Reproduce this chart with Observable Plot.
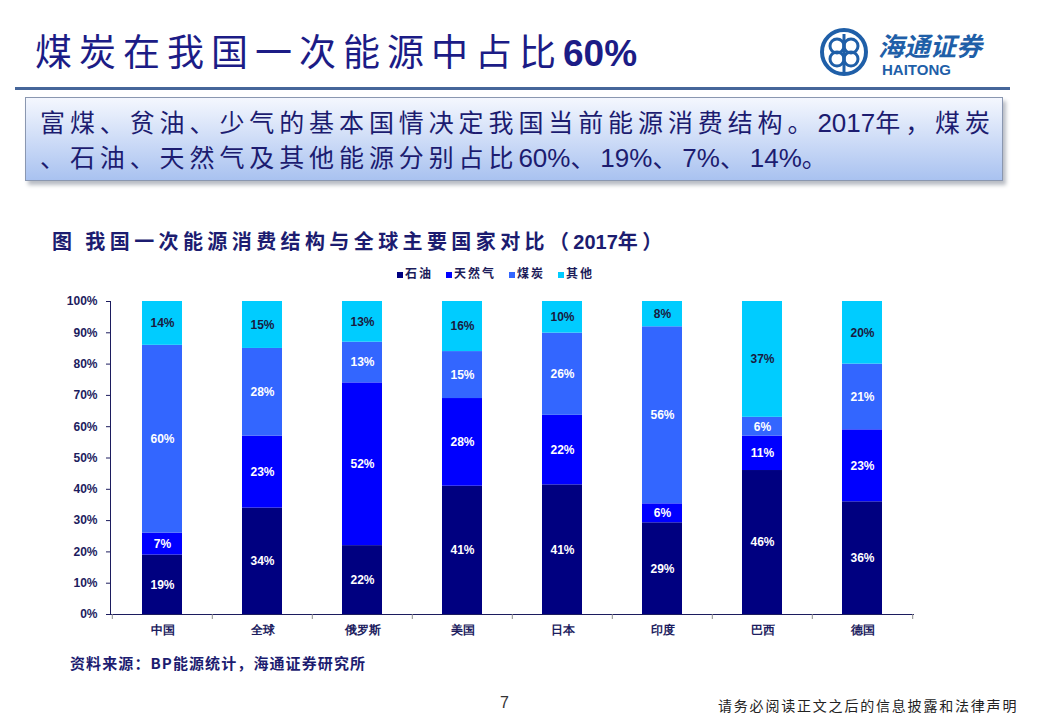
<!DOCTYPE html>
<html><head><meta charset="utf-8">
<script src="https://cdn.jsdelivr.net/npm/d3@7"></script>
<script src="https://cdn.jsdelivr.net/npm/@observablehq/plot@0.6"></script>
<style>
body{margin:0;width:1040px;height:720px;position:relative;background:#fff;overflow:hidden;font-family:"Noto Sans CJK SC",sans-serif;}
.abs{position:absolute;white-space:nowrap;}
#title{left:35px;top:26px;font-size:37px;letter-spacing:7px;color:#1c1c86;line-height:48px;}
#title b{font-family:"Liberation Sans",Arial,sans-serif;font-weight:bold;letter-spacing:0;}
#hline{left:15px;top:87px;width:995px;height:3px;background:#46669a;}
#box{left:25px;top:97px;width:976px;height:82px;border:1px solid #8a97b0;background:linear-gradient(#f4f7fe,#a9c2f0);box-shadow:3px 4px 4px #b8bcc4;}
.bt{font-size:25px;color:#1c1c70;letter-spacing:4.9px;line-height:30px;}
.bt b{font-family:"Liberation Sans",Arial,sans-serif;font-weight:normal;letter-spacing:0;font-size:26px;}
#ctitle{left:52px;top:226px;font-size:20px;font-weight:bold;color:#1c1c70;letter-spacing:4.4px;}
#ctitle b{font-family:"Liberation Sans",Arial,sans-serif;letter-spacing:0;}
#legend{left:397px;top:264px;font-size:12px;font-weight:bold;color:#1c1c5a;display:flex;gap:13px;letter-spacing:2px;}
#legend span.sw{display:inline-block;width:6px;height:6px;margin-right:2px;}
#chart{left:0;top:285px;}
#chart svg g[aria-label="y-axis"] line, #chart svg g[aria-label="y-axis"] path,
#chart svg g[aria-label="x-axis"] line, #chart svg g[aria-label="x-axis"] path{stroke:#8c8c8c;}
#chart svg g[aria-label="y-axis"] text{fill:#1c1c5e;}
#chart svg g[aria-label="x-axis"] text{fill:#1c1c70;font-family:"Noto Sans CJK SC",sans-serif;}
#src{left:70px;top:652px;font-size:15px;font-weight:bold;color:#1c1c70;letter-spacing:1.1px;}
#page{left:500px;top:694px;font-size:16px;color:#333;font-family:"Liberation Sans",Arial,sans-serif;}
#disc{left:718px;top:695px;font-size:14px;color:#222;letter-spacing:1.8px;}
#logo{left:820px;top:24px;}
</style></head><body>
<div class="abs" id="title">煤炭在我国一次能源中占比<b>60%</b></div>
<div class="abs" id="logo">
  <svg width="210" height="62">
    <g transform="translate(0,4)">
    <circle cx="24" cy="24" r="22" fill="none" stroke="#1f5fa8" stroke-width="4"/>
    <circle cx="17" cy="18" r="7" fill="none" stroke="#1f5fa8" stroke-width="3"/>
    <circle cx="31" cy="18" r="7" fill="none" stroke="#1f5fa8" stroke-width="3"/>
    <circle cx="17" cy="31" r="7" fill="none" stroke="#1f5fa8" stroke-width="3"/>
    <circle cx="31" cy="31" r="7" fill="none" stroke="#1f5fa8" stroke-width="3"/>
    <line x1="24" y1="6" x2="24" y2="44" stroke="#1f5fa8" stroke-width="3"/>
    <text x="58" y="28" font-size="26" font-style="italic" font-weight="bold" fill="#1f5fa8" font-family="Noto Sans CJK SC">海通证券</text>
    <text x="62" y="47" font-size="15" font-weight="bold" fill="#1f5fa8" font-family="Liberation Sans, Arial">HAITONG</text>
    </g>
  </svg>
</div>
<div class="abs" id="hline"></div>
<div class="abs" id="box"></div>
<div class="abs bt" style="left:40px;top:106px;">富煤、贫油、少气的基本国情决定我国当前能源消费结构。<b>2017</b>年，煤炭</div>
<div class="abs bt" style="left:40px;top:141px;">、石油、天然气及其他能源分别占比<b>60%</b>、<b>19%</b>、<b>7%</b>、<b>14%</b>。</div>
<div class="abs" id="ctitle">图 我国一次能源消费结构与全球主要国家对比（<b>2017</b>年）</div>
<div class="abs" id="legend"></div>
<div class="abs" id="chart"></div>
<div class="abs" id="src">资料来源：BP能源统计，海通证券研究所</div>
<div class="abs" id="page">7</div>
<div class="abs" id="disc">请务必阅读正文之后的信息披露和法律声明</div>
<script>
const countries = ["中国","全球","俄罗斯","美国","日本","印度","巴西","德国"];
const series = ["石油","天然气","煤炭","其他"];
const colors = ["#000080","#0000ff","#3366ff","#00ccff"];
const oil   = [19,34,22,41,41,29,46,36];
const gas   = [7,23,52,28,22,6,11,23];
const coal  = [60,28,13,15,26,56,6,21];
const other = [14,15,13,16,10,8,37,20];
const yTicks = [0,0.1,0.2,0.3,0.4,0.5,0.6,0.7,0.8,0.9,1];

const table = [];
countries.forEach((c,i)=>{
  [oil,gas,coal,other].forEach((arr,j)=>table.push({country:c,type:series[j],v:arr[i]}));
});

const legend = document.getElementById("legend");
series.forEach((s,i)=>{
  const it = document.createElement("div");
  it.innerHTML = `<span class="sw" style="background:${colors[i]}"></span>${s}`;
  legend.appendChild(it);
});

const stackOpts = {x:"country", y:"v", z:"type", offset:"normalize", order:null};
const chart = Plot.plot({
  width:1040, height:358,
  marginLeft:110, marginRight:127, marginTop:16, marginBottom:29,
  style:{fontFamily:"Liberation Sans, Arial, sans-serif", fontSize:"12px", fontWeight:"bold", background:"transparent", overflow:"visible", color:"#1c1c5e"},
  x:{domain:countries, paddingInner:0.6, paddingOuter:0.3, label:null, tickSize:0, tickPadding:11, line:true},
  y:{domain:[0,1], label:null, ticks:yTicks, tickFormat:d3.format(".0%"), tickSize:4, tickPadding:9, line:true},
  color:{domain:series, range:colors},
  marks:[
    Plot.barY(table, Plot.stackY({...stackOpts, fill:"type"})),
    Plot.text(table, Plot.stackY({...stackOpts, text:d=>d.type!=="其他"?d.v+"%":"", fill:"white", fontSize:12, fontWeight:"bold"})),
    Plot.text(table, Plot.stackY({...stackOpts, text:d=>d.type==="其他"?d.v+"%":"", fill:"#1a1a40", fontSize:12, fontWeight:"bold"})),
    Plot.ruleX(countries, {x:d=>d, y1:0, y2:-0.016, dx:-50.2, stroke:"#8c8c8c"}),
    Plot.ruleX([countries[countries.length-1]], {x:d=>d, y1:0, y2:-0.016, dx:50.2, stroke:"#8c8c8c"})
  ]
});
document.getElementById("chart").appendChild(chart);
</script>
</body></html>
